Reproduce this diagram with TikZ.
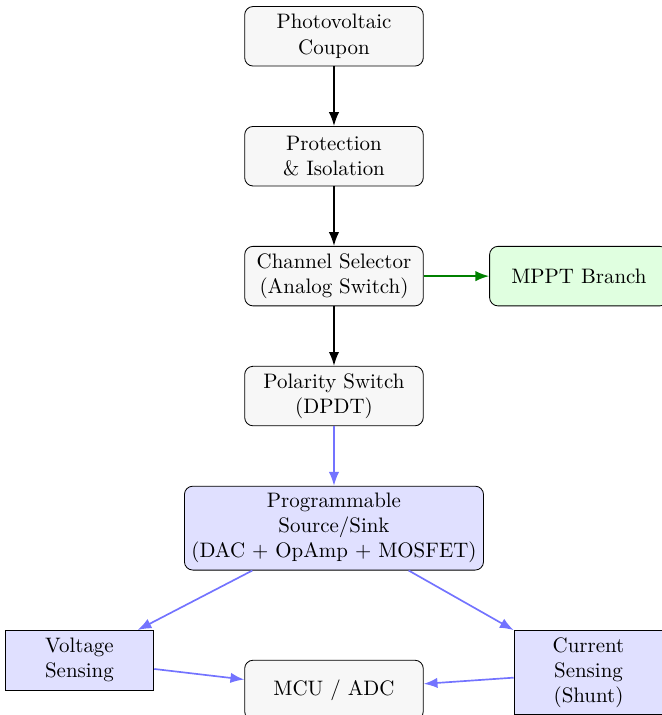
\documentclass[tikz,border=0pt]{standalone}
\usepackage{xcolor}
\usepackage{tikz}
\usetikzlibrary{shapes.geometric, arrows.meta, positioning}

\begin{document}
\begin{tikzpicture}[
        node distance=1cm,
        box/.style={rectangle, draw, rounded corners, fill=black!3, minimum height=1cm, minimum width=3cm, align=center},
        bluebox/.style={box, fill=blue!12},
        sensebox/.style={rectangle, draw, fill=blue!12, minimum height=1cm, minimum width=2.5cm, align=center},
        greenbox/.style={box, fill=green!12},
        arrow/.style={-Latex, thick},
        bluearrow/.style={-Latex, thick, blue!55},
        greenarrow/.style={-Latex, thick, green!50!black}
    ]
        \useasboundingbox (-5.61,0.61) rectangle (5.50,-11.40);
        \node[box] (pv) at (0,0) {Photovoltaic\\Coupon};
        \node[box, below=of pv] (prot) {Protection\\\& Isolation};
        \node[box, below=of prot] (chsel) {Channel Selector\\(Analog Switch)};
        \node[greenbox, right=1.1cm of chsel] (mppt) {MPPT Branch};
        \node[box, below=of chsel] (pol) {Polarity Switch\\(DPDT)};
        \node[bluebox, below=of pol] (src) {Programmable\\Source/Sink\\(DAC + OpAmp + MOSFET)};
        \node[sensebox, below left=1cm and 0.5cm of src] (vsense) {Voltage\\Sensing};
        \node[sensebox, below right=1cm and 0.5cm of src] (isense) {Current\\Sensing\\(Shunt)};
        \node[box, below=1.5cm of src] (mcu) {MCU / ADC};
        \draw[arrow] (pv) -- (prot);
        \draw[arrow] (prot) -- (chsel);
        \draw[greenarrow] (chsel) -- (mppt);
        \draw[arrow] (chsel) -- (pol);
        \draw[bluearrow] (pol) -- (src);
        \draw[bluearrow] (src) -- (vsense);
        \draw[bluearrow] (src) -- (isense);
        \draw[bluearrow] (vsense) -- (mcu);
        \draw[bluearrow] (isense) -- (mcu);
    \end{tikzpicture}
\end{document}
